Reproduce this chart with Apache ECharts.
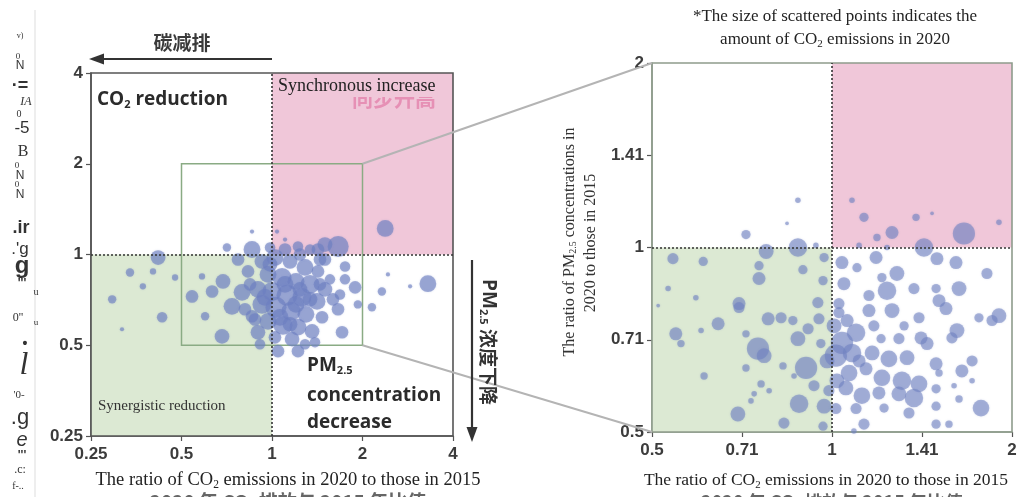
<!DOCTYPE html>
<html><head><meta charset="utf-8">
<script src="https://cdn.jsdelivr.net/npm/echarts@6/dist/echarts.min.js"></script>
<style>html,body{margin:0;padding:0;background:#fff}#c{width:1030px;height:497px}</style>
</head><body><div id="c"></div>
<script>
// ---- data ----
const leftTicks = [0.25, 0.5, 1, 2, 4];
const rightTicks = [0.5, 0.71, 1, 1.41, 2];
// [CO2 ratio 2020/2015, PM2.5 ratio 2020/2015, CO2 emissions 2020 (relative)]
const leftPoints = [
[2.38,1.22,64],[3.30,0.80,64],[2.32,0.754,16],[2.15,0.668,16],[2.88,0.784,4],[2.43,0.859,4],[1.93,0.683,16],[1.75,0.913,25],[1.71,0.552,36],[1.89,0.778,36],[1.66,1.063,100],[1.50,1.079,49],
[0.294,0.71,16],[0.337,0.872,16],[0.372,0.784,9],[0.418,0.977,49],[0.431,0.619,25],[0.402,0.879,9],[0.317,0.565,4],[0.476,0.839,9],[0.542,0.726,36],[0.585,0.846,9],[0.599,0.624,16],[0.632,0.754,36],[0.682,0.535,49],[0.687,0.814,49],[0.708,1.055,16],[0.736,0.673,64],[0.771,0.963,36],[0.858,1.191,4],[0.858,1.039,64],[0.795,0.749,64],[0.858,0.624,36],[0.898,0.552,49],[1.039,1.191,4],[1.105,1.121,4],[1.22,1.063,25],[1.422,1.039,36],[1.50,0.963,36],[1.749,0.827,25],[1.658,0.658,36],[1.047,0.478,36],[1.22,0.478,36],[1.39,0.512,25],
[0.926,0.948,49],[1.023,0.977,64],[1.148,0.948,49],[1.288,0.906,64],[1.422,0.879,36],[0.970,0.859,64],[1.080,0.839,81],[1.202,0.814,64],[1.338,0.796,81],[1.50,0.766,49],[0.898,0.766,64],[1.0,0.754,81],[1.122,0.732,100],[1.258,0.721,81],[1.412,0.699,64],[0.926,0.683,81],[1.031,0.668,100],[1.157,0.648,81],[1.297,0.633,64],[1.467,0.619,36],[0.970,0.600,64],[1.088,0.582,81],[1.220,0.574,64],[1.359,0.556,49],[1.023,0.531,36],[1.166,0.524,49],[0.832,0.879,36],[0.813,0.658,36],[1.595,0.710,36],[1.559,0.827,25],[0.912,0.504,25],[1.288,0.504,25],[1.105,1.039,36],[1.239,1.0,36],[0.845,0.796,36],[1.683,0.737,25],[1.444,0.963,36],[0.985,1.055,25],[1.338,1.039,25],
[0.948,0.721,64],[1.063,0.619,64],[1.202,0.683,64],[1.338,0.710,49],[1.105,0.796,64],[1.239,0.766,49],[0.985,0.927,49],[1.444,0.796,36],[0.878,0.609,36],[1.148,0.587,49]
];
const rightPoints = [
[0.877,1.194,9],[0.841,1.095,4],[0.718,1.050,25],[0.877,1.0,100],[0.776,0.985,64],[0.542,0.959,36],[0.609,0.949,25],[0.755,0.934,25],[0.755,0.890,49],[0.894,0.920,25],[0.970,0.963,25],[0.966,0.883,25],[0.532,0.857,9],[0.592,0.828,9],[0.699,0.810,49],[0.947,0.813,36],[0.512,0.804,4],[0.940,1.008,9],
[0.548,0.723,49],[0.559,0.697,16],[0.604,0.732,9],[0.645,0.751,49],[0.699,0.798,36],[0.718,0.723,16],[0.782,0.765,49],[0.822,0.768,36],[0.752,0.684,144],[0.770,0.666,64],[0.718,0.636,16],[0.611,0.617,16],[0.761,0.599,16],[0.741,0.577,9],[0.785,0.584,9],[0.828,0.641,16],[0.864,0.617,9],[0.905,0.636,144],[0.877,0.710,64],[0.912,0.737,36],[0.860,0.760,25],[0.951,0.765,36],[0.958,0.697,25],[0.881,0.556,100],[0.970,0.551,64],[0.696,0.535,64],[0.831,0.517,36],[0.966,0.511,25],[0.732,0.562,9],
[1.080,1.194,9],[1.131,1.120,25],[1.260,1.058,49],[1.189,1.038,16],[1.382,1.120,16],[1.470,1.137,4],[1.662,1.054,144],[1.902,1.099,9],[1.425,1.0,100],[1.110,1.008,9],[1.236,1.0,9],[1.185,0.963,49],[1.498,0.959,49],[1.612,0.945,49],[1.039,0.945,49],[1.101,0.927,25],[1.284,0.907,64],[1.212,0.893,25],[1.816,0.907,36],[1.371,0.857,36],[1.493,0.857,25],[1.631,0.857,64],[1.236,0.850,100],[1.047,0.873,49],[1.153,0.835,36],[1.510,0.819,49],[1.027,0.810,36],
[1.027,0.783,36],[1.153,0.789,49],[1.260,0.789,64],[1.398,0.768,36],[1.551,0.795,49],[1.761,0.768,25],[1.902,0.774,64],[1.852,0.760,36],[1.618,0.732,64],[1.587,0.712,36],[1.442,0.697,49],[1.409,0.712,49],[1.294,0.710,36],[1.208,0.710,25],[1.097,0.726,100],[1.039,0.699,144],[1.015,0.666,144],[1.080,0.673,100],[1.167,0.673,64],[1.245,0.658,81],[1.335,0.661,64],[1.493,0.646,49],[1.715,0.653,36],[1.649,0.629,49],[1.068,0.624,81],[1.140,0.634,49],[1.212,0.613,81],[1.309,0.606,100],[1.398,0.599,81],[1.493,0.588,25],[1.055,0.590,64],[1.122,0.573,81],[1.198,0.579,49],[1.294,0.577,64],[1.371,0.568,100],[1.510,0.624,16],[1.600,0.595,9],[1.222,0.547,25],[1.097,0.546,36],[1.015,0.546,36],[1.345,0.537,36],[1.493,0.551,25],[1.775,0.547,81],[1.631,0.566,16],[1.131,0.515,36],[1.493,0.515,25],[1.569,0.515,16],[1.088,0.502,9],[1.715,0.606,9],
[1.008,0.745,64],[1.06,0.760,49],[1.019,0.606,64],[1.110,0.653,49],[1.175,0.745,36],[1.32,0.745,25],[0.981,0.653,64],[0.933,0.595,36],[0.988,0.584,36]
];
// ---- styles ----
const PINK = '#f0c7d9', GREEN = '#dce9d3';
const DOT = 'rgba(112,130,192,0.7)';
const DOTL = 'rgba(108,126,192,0.76)';
const DOTSH = 'rgba(112,130,192,0.45)';
const LFRAME = '#555', RFRAME = '#8e9c8c';
const tickFont = {fontFamily:'Liberation Sans', fontWeight:'bold', fontSize:17, color:'#3c3c3c'};
function fmt(ticks){ return v => { let b = ticks[0]; ticks.forEach(t => { if (Math.abs(Math.log(t) - Math.log(v)) < Math.abs(Math.log(b) - Math.log(v))) b = t; }); return String(b); }; }

function axis(grid, base, min, max, ticks, frame, isX){
  return {
    type:'log', logBase:base, gridIndex:grid, min:min, max:max, splitNumber:4,
    axisLine:{show:true, lineStyle:{color:frame, width:1.5}},
    axisTick:{show:true, length:5, lineStyle:{color:'#555', width:1.2}},
    axisLabel:Object.assign({formatter:fmt(ticks), margin:isX ? 10 : 8}, tickFont),
    splitLine:{show:false}
  };
}
function areas(lo, hi, frame, extra){
  const d = [
    [{coord:[1,1], itemStyle:{color:PINK}}, {coord:[hi,hi]}],
    [{coord:[lo,lo], itemStyle:{color:GREEN}}, {coord:[1,1]}]
  ];
  (extra || []).forEach(e => d.push(e));
  d.push([{coord:[lo,lo], itemStyle:{color:'rgba(0,0,0,0)', borderColor:frame, borderWidth:1.6}}, {coord:[hi,hi]}]);
  return d;
}
const sizeL = v => 2.1 * Math.sqrt(v[2]);
const sizeR = v => 1.85 * Math.sqrt(v[2]);
const dotted = {type:[2,2], color:'#333', width:1.6};

const option = {
  animation:false,
  grid:[
    {left:91, top:73, width:362, height:363},
    {left:652, top:63, width:360, height:369}
  ],
  xAxis:[axis(0, 2, 0.25, 4, leftTicks, LFRAME, true), axis(1, Math.SQRT2, 0.5, 2, rightTicks, RFRAME, true)],
  yAxis:[axis(0, 2, 0.25, 4, leftTicks, LFRAME, false), axis(1, Math.SQRT2, 0.5, 2, rightTicks, RFRAME, false)],
  series:[
    {type:'scatter', xAxisIndex:0, yAxisIndex:0, data:[], z:1, silent:true,
     markArea:{silent:true, data:areas(0.25, 4, LFRAME, [
       [{coord:[0.5,0.5], itemStyle:{color:'rgba(0,0,0,0)', borderColor:'#8aab84', borderWidth:1.5}}, {coord:[2,2]}]
     ])}},
    {type:'scatter', xAxisIndex:1, yAxisIndex:1, data:[], z:1, silent:true,
     markArea:{silent:true, data:areas(0.5, 2, RFRAME)}},
    {type:'scatter', xAxisIndex:0, yAxisIndex:0, data:leftPoints, symbolSize:sizeL, z:3,
     itemStyle:{color:DOTL, shadowBlur:2, shadowColor:DOTSH}},
    {type:'scatter', xAxisIndex:1, yAxisIndex:1, data:rightPoints, symbolSize:sizeR, z:3,
     itemStyle:{color:DOT, shadowBlur:2, shadowColor:DOTSH}},
    {type:'scatter', xAxisIndex:0, yAxisIndex:0, data:[], z:5, silent:true,
     markLine:{silent:true, symbol:'none', label:{show:false}, lineStyle:dotted, data:[{xAxis:1},{yAxis:1}]}},
    {type:'scatter', xAxisIndex:1, yAxisIndex:1, data:[], z:5, silent:true,
     markLine:{silent:true, symbol:'none', label:{show:false}, lineStyle:dotted, data:[{xAxis:1},{yAxis:1}]}}
  ]
};

const chart = echarts.init(document.getElementById('c'), null, {renderer:'canvas'});
chart.setOption(option);

const p = (g, v) => chart.convertToPixel({xAxisIndex:g, yAxisIndex:g}, v);
const a1 = p(0,[2,2]), b1 = p(1,[0.5,2]), a2 = p(0,[2,0.5]), b2 = p(1,[0.5,0.5]);

const serif = 'Liberation Serif';
const sans = 'Open Sans';
const G = [];
// connecting lines
G.push({type:'line', z:1, shape:{x1:a1[0], y1:a1[1], x2:b1[0], y2:b1[1]}, style:{stroke:'#b4b4b4', lineWidth:2}});
G.push({type:'line', z:1, shape:{x1:a2[0], y1:a2[1], x2:b2[0], y2:b2[1]}, style:{stroke:'#b4b4b4', lineWidth:2}});
// top arrow + label
G.push({type:'line', z:10, shape:{x1:272, y1:59, x2:100, y2:59}, style:{stroke:'#333', lineWidth:2.2}});
G.push({type:'polygon', z:10, shape:{points:[[89,59],[104,53.5],[104,64.5]]}, style:{fill:'#333'}});
G.push({type:'text', z:10, x:182, y:43, style:{text:'碳减排', fontFamily:'Noto Sans CJK SC', fontWeight:'bold', fontSize:19, fill:'#3a3a3a', align:'center', verticalAlign:'middle'}});
// right vertical arrow + label
G.push({type:'line', z:10, shape:{x1:472, y1:260, x2:472, y2:430}, style:{stroke:'#333', lineWidth:2.2}});
G.push({type:'polygon', z:10, shape:{points:[[472,442],[466.5,427],[477.5,427]]}, style:{fill:'#333'}});
G.push({type:'text', z:10, x:488, y:342, rotation:-Math.PI/2, style:{
  text:'{b|PM}{s|2.5}{c| 浓度下降}', align:'center', verticalAlign:'middle',
  rich:{b:{fontFamily:sans, fontWeight:'bold', fontSize:19, fill:'#333'},
        s:{fontFamily:sans, fontWeight:'bold', fontSize:11, fill:'#333', padding:[10,0,0,0]},
        c:{fontFamily:'Noto Sans CJK SC', fontWeight:'bold', fontSize:19, fill:'#333'}}}});
// quadrant labels
G.push({type:'text', z:10, x:97, y:100, style:{
  text:'{b|CO}{s|2}{b| reduction}', verticalAlign:'middle',
  rich:{b:{fontFamily:sans, fontWeight:'bold', fontSize:19, fill:'#2b2b2b'},
        s:{fontFamily:sans, fontWeight:'bold', fontSize:11, fill:'#2b2b2b', padding:[10,0,0,0]}}}});
G.push({type:'text', z:10, x:394, y:98, style:{text:'同步升高', fontFamily:'Noto Sans CJK SC', fontWeight:'bold', fontSize:21, fill:'#e690b5', align:'center', verticalAlign:'middle'}});
G.push({type:'text', z:11, x:276, y:86, style:{text:'Synchronous increase', fontFamily:serif, fontSize:18, fill:'#222', verticalAlign:'middle', backgroundColor:PINK, padding:[2,2,2,2]}});
G.push({type:'text', z:10, x:98, y:406, style:{text:'Synergistic reduction', fontFamily:serif, fontSize:15, fill:'#333', verticalAlign:'middle'}});
G.push({type:'text', z:10, x:307, y:366, style:{
  text:'{b|PM}{s|2.5}', verticalAlign:'middle',
  rich:{b:{fontFamily:sans, fontWeight:'bold', fontSize:19, fill:'#2b2b2b'},
        s:{fontFamily:sans, fontWeight:'bold', fontSize:11, fill:'#2b2b2b', padding:[10,0,0,0]}}}});
G.push({type:'text', z:10, x:307, y:396, style:{text:'concentration', fontFamily:sans, fontWeight:'bold', fontSize:19, fill:'#2b2b2b', verticalAlign:'middle'}});
G.push({type:'text', z:10, x:307, y:423, style:{text:'decrease', fontFamily:sans, fontWeight:'bold', fontSize:19, fill:'#2b2b2b', verticalAlign:'middle'}});
// axis titles
function co2Title(x, y, fs){
  return {type:'text', z:10, x:x, y:y, style:{
    text:'{a|The ratio of CO}{s|2}{a| emissions in 2020 to those in 2015}', align:'center', verticalAlign:'middle',
    rich:{a:{fontFamily:serif, fontSize:fs, fill:'#222'}, s:{fontFamily:serif, fontSize:fs*0.62, fill:'#222', padding:[fs*0.55,0,0,0]}}}};
}
G.push({type:'text', z:9, x:288, y:502, style:{text:'2020 年 CO₂ 排放与 2015 年比值', fontFamily:'Noto Sans CJK SC', fontWeight:'bold', fontSize:19, fill:'#666', align:'center', verticalAlign:'middle'}});
G.push({type:'text', z:9, x:832, y:502, style:{text:'2020 年 CO₂ 排放与 2015 年比值', fontFamily:'Noto Sans CJK SC', fontWeight:'bold', fontSize:18, fill:'#666', align:'center', verticalAlign:'middle'}});
G.push(co2Title(288, 480, 18.5));
G.push(co2Title(826, 480, 17.5));
G.push({type:'text', z:10, x:835, y:17, style:{text:'*The size of scattered points indicates the', fontFamily:serif, fontSize:17, fill:'#222', align:'center', verticalAlign:'middle'}});
G.push({type:'text', z:10, x:835, y:40, style:{
  text:'{a|amount of CO}{s|2}{a| emissions in 2020}', align:'center', verticalAlign:'middle',
  rich:{a:{fontFamily:serif, fontSize:17, fill:'#222'}, s:{fontFamily:serif, fontSize:11, fill:'#222', padding:[8,0,0,0]}}}});
// right y title (rotated)
G.push({type:'rect', z:8, shape:{x:558, y:98, width:42, height:300}, style:{fill:'#fff'}});
G.push({type:'text', z:10, x:570, y:242, rotation:Math.PI/2, style:{
  text:'{a|The ratio of PM}{s|2.5}{a| concentrations in}', align:'center', verticalAlign:'middle',
  rich:{a:{fontFamily:serif, fontSize:16, fill:'#333'}, s:{fontFamily:serif, fontSize:10, fill:'#333', padding:[7,0,0,0]}}}});
G.push({type:'text', z:10, x:591, y:243, rotation:Math.PI/2, style:{text:'2020 to those in 2015', fontFamily:serif, fontSize:16, fill:'#333', align:'center', verticalAlign:'middle'}});
// stray fragments along the left edge
const frag = [
  ['v)',20,36,8,serif,'normal'],['0',18,57,9,serif,'normal'],['N',20,66,12,'Liberation Sans','normal'],['·=',20,86,18,'Liberation Sans','bold'],
  ['IA',26,102,12,serif,'italic'],['0',19,114,10,serif,'normal'],['-5',22,128,17,'Liberation Sans','normal'],['B',23,152,16,serif,'normal'],
  ['0',17,166,9,serif,'normal'],['N',20,176,12,'Liberation Sans','normal'],['0',17,185,9,serif,'normal'],['N',20,195,12,'Liberation Sans','normal'],
  ['.ir',21,228,18,'Liberation Sans','bold'],['.\'g',20,249,17,'Liberation Sans','normal'],['g',22,266,24,'Liberation Sans','bold'],['\'\'\'',22,284,12,'Liberation Sans','bold'],
  ['u',36,292,10,serif,'normal'],['0\'\'',18,318,12,serif,'normal'],['u',36,323,9,serif,'normal'],['•',25,344,14,'Liberation Sans','bold'],
  ['l',24,366,32,serif,'italic'],['\'0-',19,395,11,serif,'normal'],['.g',20,418,22,'Liberation Sans','normal'],['e',22,440,20,'Liberation Sans','italic'],
  ['\'\'\'',22,456,12,'Liberation Sans','bold'],['.c:',20,470,12,serif,'normal'],['f-..',18,486,10,serif,'normal']
];
frag.forEach(f => G.push({type:'text', z:10, x:f[1], y:f[2], style:{text:f[0], fontSize:f[3], fontFamily:f[4], fontStyle:f[5]==='italic'?'italic':'normal', fontWeight:f[5]==='bold'?'bold':'normal', fill:'#333', align:'center', verticalAlign:'middle'}}));
G.push({type:'line', z:9, shape:{x1:35, y1:10, x2:35, y2:497}, style:{stroke:'#ddd', lineWidth:1}});

chart.setOption({graphic:G});
</script></body></html>
